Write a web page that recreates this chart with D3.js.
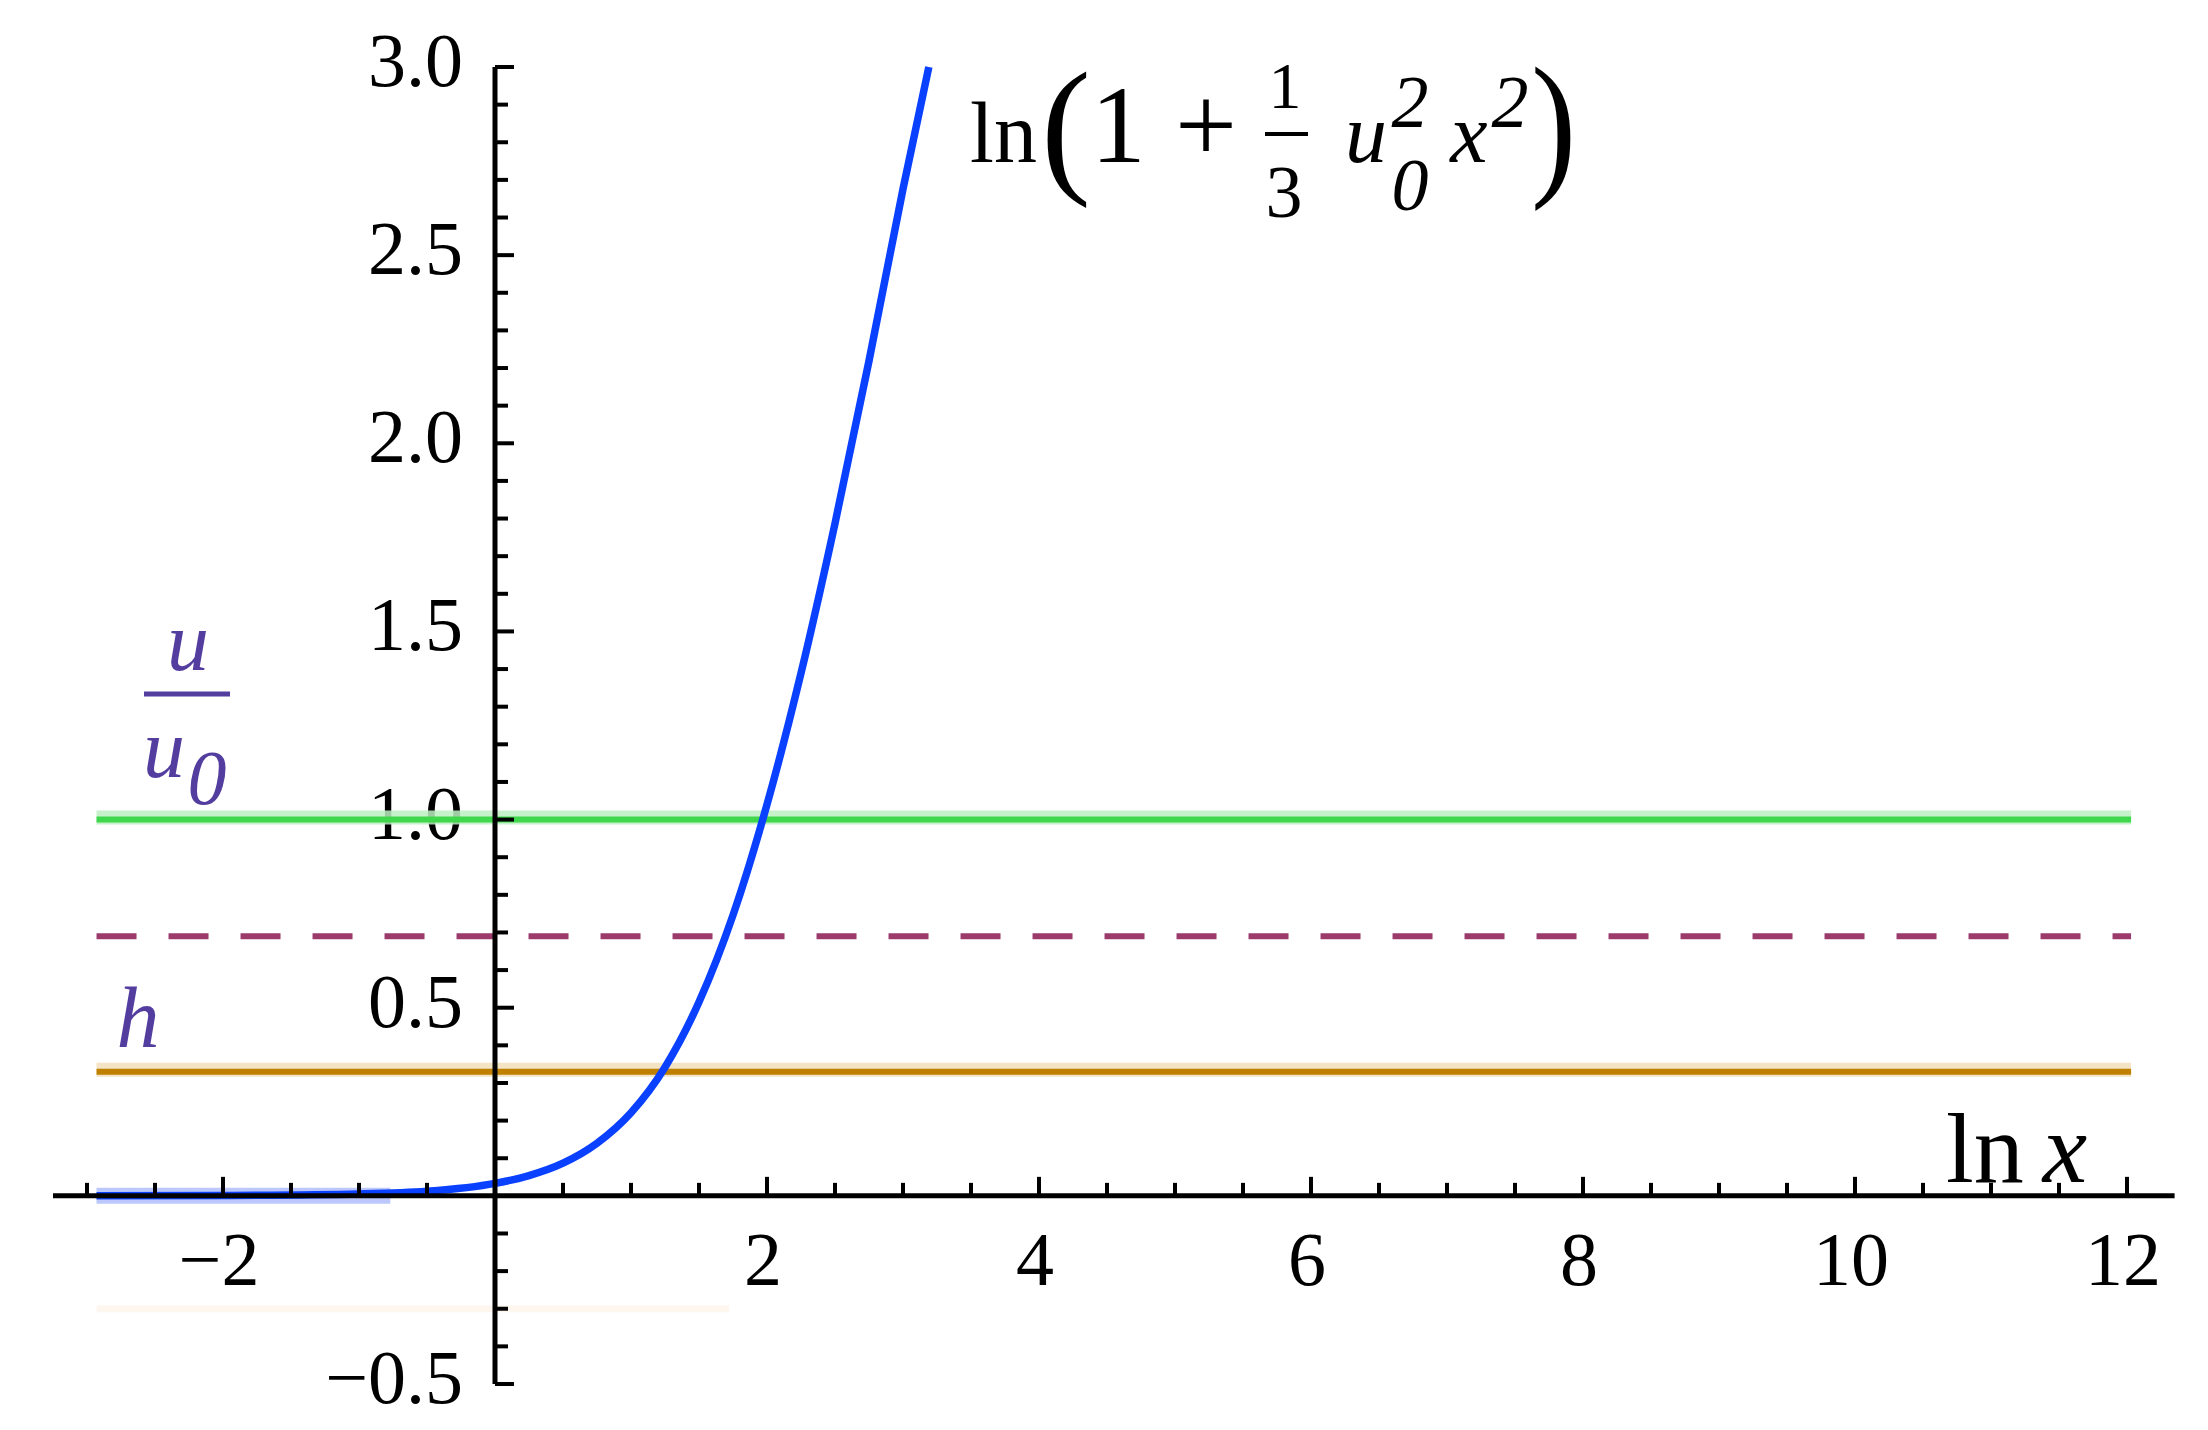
<!DOCTYPE html>
<html><head><meta charset="utf-8">
<script src="https://cdn.jsdelivr.net/npm/d3@7"></script>
<style>
body{margin:0;background:#fff;}
svg{display:block;}
text{font-family:"Liberation Serif","Times New Roman",serif;}
</style>
</head><body>
<svg id="chart" width="2208" height="1430"></svg>
<script>
// ---- data ----
const curveT = [-2.93, -2.0, -1.0, -0.5, 0.0, 0.25, 0.5, 0.75, 1.0, 1.25, 1.5, 1.75, 2.0, 2.25, 2.5, 2.75, 3.0, 3.19];
const curveV = [0.000, 0.001, 0.005, 0.012, 0.033, 0.054, 0.087, 0.140, 0.221, 0.342, 0.515, 0.746, 1.04, 1.389, 1.787, 2.219, 2.676, 3.0];
const levelNames  = ["u/u0", "ln2", "h"];
const levelValues = [1.0, 0.69, 0.33];
const levelColors = ["#3fd84c", "#9c3a6c", "#bf8000"];
const levelHalos  = ["#bdefc1", null, "#f0e0ba"];
const levelStart = -2.93, levelEnd = 12.03;
const blueHaloT = [-2.93, -0.77];
const ghostT = [-2.93, 1.72], ghostV = -0.30;
const xTickLabels = [-2, 2, 4, 6, 8, 10, 12];
const yTickLabels = [-0.5, 0.5, 1.0, 1.5, 2.0, 2.5, 3.0];
const xAxisExtent = [-3.25, 12.35];
const yAxisExtent = [-0.5, 3.0];

const svg = d3.select("#chart");
const x = d3.scaleLinear().domain([0, 12]).range([495, 2127]);
const y = d3.scaleLinear().domain([-0.5, 3.0]).range([1384, 67]);
const x0 = x(0), y0 = y(0);

// ---- tick labels (drawn first, lines go over them) ----
const gLab = svg.append("g");
gLab.selectAll("text.yl").data(yTickLabels).join("text")
  .attr("class","yl")
  .attr("x", x0 - 32).attr("y", d => y(d) + 19)
  .attr("text-anchor","end").attr("font-size", 76)
  .text(d => (d < 0 ? "\u2212" : "") + Math.abs(d).toFixed(1));
gLab.selectAll("text.xl").data(xTickLabels).join("text")
  .attr("class","xl")
  .attr("x", d => x(d) - 4).attr("y", y0 + 89)
  .attr("text-anchor","middle").attr("font-size", 76)
  .text(d => (d < 0 ? "\u2212" : "") + Math.abs(d));

// ---- faint ghost line ----
svg.append("line")
  .attr("x1", x(ghostT[0])).attr("x2", x(ghostT[1]))
  .attr("y1", y(ghostV)).attr("y2", y(ghostV))
  .attr("stroke", "#fef7f0").attr("stroke-width", 7);

// ---- horizontal level lines ----
const gLev = svg.append("g");
levelValues.forEach((v, i) => {
  if (levelHalos[i]) {
    gLev.append("line")
      .attr("x1", x(levelStart)).attr("x2", x(levelEnd))
      .attr("y1", y(v) - 2).attr("y2", y(v) - 2)
      .attr("stroke", levelHalos[i]).attr("stroke-width", 14).attr("opacity", 0.85);
  }
  const ln = gLev.append("line")
    .attr("x1", x(levelStart)).attr("x2", x(levelEnd))
    .attr("y1", y(v)).attr("y2", y(v))
    .attr("stroke", levelColors[i]).attr("stroke-width", 6);
  if (levelNames[i] === "ln2") ln.attr("stroke-dasharray", "40,32");
});

// ---- blue curve ----
const pts = curveT.map((t, i) => [t, curveV[i]]);
svg.append("line")
  .attr("x1", x(blueHaloT[0])).attr("x2", x(blueHaloT[1]))
  .attr("y1", y0).attr("y2", y0)
  .attr("stroke", "#bcc8fb").attr("stroke-width", 16);
svg.append("path")
  .datum(pts)
  .attr("fill", "none")
  .attr("stroke", "#0a40ff")
  .attr("stroke-width", 7.5)
  .attr("d", d3.line().x(d => x(d[0])).y(d => y(d[1])).curve(d3.curveMonotoneX));

// ---- axes (on top) ----
const gAx = svg.append("g").attr("stroke", "#000");
gAx.append("line")
  .attr("x1", x(xAxisExtent[0])).attr("x2", x(xAxisExtent[1]))
  .attr("y1", y0).attr("y2", y0).attr("stroke-width", 5);
gAx.append("line")
  .attr("x1", x0).attr("x2", x0)
  .attr("y1", y(yAxisExtent[1])).attr("y2", y(yAxisExtent[0])).attr("stroke-width", 5);

const xTicks = d3.range(-6, 25).map(k => k / 2);
gAx.selectAll("line.xt").data(xTicks.filter(t => t !== 0)).join("line")
  .attr("class","xt")
  .attr("x1", d => x(d)).attr("x2", d => x(d))
  .attr("y1", y0).attr("y2", d => y0 - (d % 2 === 0 ? 19 : 13))
  .attr("stroke-width", 4);

const yTicks = d3.range(-5, 31).map(k => k / 10);
gAx.selectAll("line.yt").data(yTicks.filter(v => Math.abs(v) > 1e-9)).join("line")
  .attr("class","yt")
  .attr("x1", x0).attr("x2", d => x0 + (Math.abs(Math.round(d * 10) % 5) === 0 ? 19 : 13))
  .attr("y1", d => y(d)).attr("y2", d => y(d))
  .attr("stroke-width", 4);

// ---- axis label ln x ----
svg.append("text").attr("x", 1946).attr("y", 1182).attr("font-size", 100).text("ln");
svg.append("text").attr("x", 2065).attr("y", 1182).attr("font-size", 100)
  .attr("font-style","italic").attr("text-anchor","middle").text("x");

// ---- formula label ----
const F = svg.append("g").attr("fill", "#000");
const lnParen = F.append("text").attr("x", 970).attr("y", 162);
lnParen.append("tspan").attr("font-size", 86).text("ln");
lnParen.append("tspan").attr("font-size", 150).attr("dx", 4).attr("dy", 14).text("(");
lnParen.append("tspan").attr("font-size", 110).attr("dy", -14).text("1");
F.append("text").attr("x", 1206).attr("y", 162).attr("font-size", 110).attr("text-anchor","middle").text("+");
F.append("text").attr("x", 1285).attr("y", 108).attr("font-size", 66).attr("text-anchor","middle").text("1");
F.append("line").attr("x1", 1265).attr("x2", 1308).attr("y1", 134).attr("y2", 134).attr("stroke", "#000").attr("stroke-width", 4);
F.append("text").attr("x", 1284).attr("y", 217).attr("font-size", 74).attr("text-anchor","middle").text("3");
F.append("text").attr("x", 1366).attr("y", 162).attr("font-size", 84).attr("font-style","italic").attr("text-anchor","middle").text("u");
F.append("text").attr("x", 1410).attr("y", 210).attr("font-size", 74).attr("font-style","italic").attr("text-anchor","middle").text("0");
F.append("text").attr("x", 1410).attr("y", 127).attr("font-size", 74).attr("font-style","italic").attr("text-anchor","middle").text("2");
F.append("text").attr("x", 1469).attr("y", 162).attr("font-size", 84).attr("font-style","italic").attr("text-anchor","middle").text("x");
F.append("text").attr("x", 1510).attr("y", 127).attr("font-size", 74).attr("font-style","italic").attr("text-anchor","middle").text("2");
F.append("text").attr("transform", "translate(1531,177) scale(0.85,1)").attr("font-size", 160).text(")");

// ---- u/u0 and h labels ----
const purple = "#533d9f";
const L = svg.append("g").attr("fill", purple);
L.append("text").attr("x", 188).attr("y", 670).attr("font-size", 84).attr("font-style","italic").attr("text-anchor","middle").text("u");
L.append("line").attr("x1", 144).attr("x2", 230).attr("y1", 694).attr("y2", 694).attr("stroke", purple).attr("stroke-width", 5);
L.append("text").attr("x", 164).attr("y", 777).attr("font-size", 84).attr("font-style","italic").attr("text-anchor","middle").text("u");
L.append("text").attr("x", 207).attr("y", 804).attr("font-size", 78).attr("font-style","italic").attr("text-anchor","middle").text("0");
L.append("text").attr("x", 138).attr("y", 1047).attr("font-size", 86).attr("font-style","italic").attr("text-anchor","middle").text("h");
</script>
</body></html>
